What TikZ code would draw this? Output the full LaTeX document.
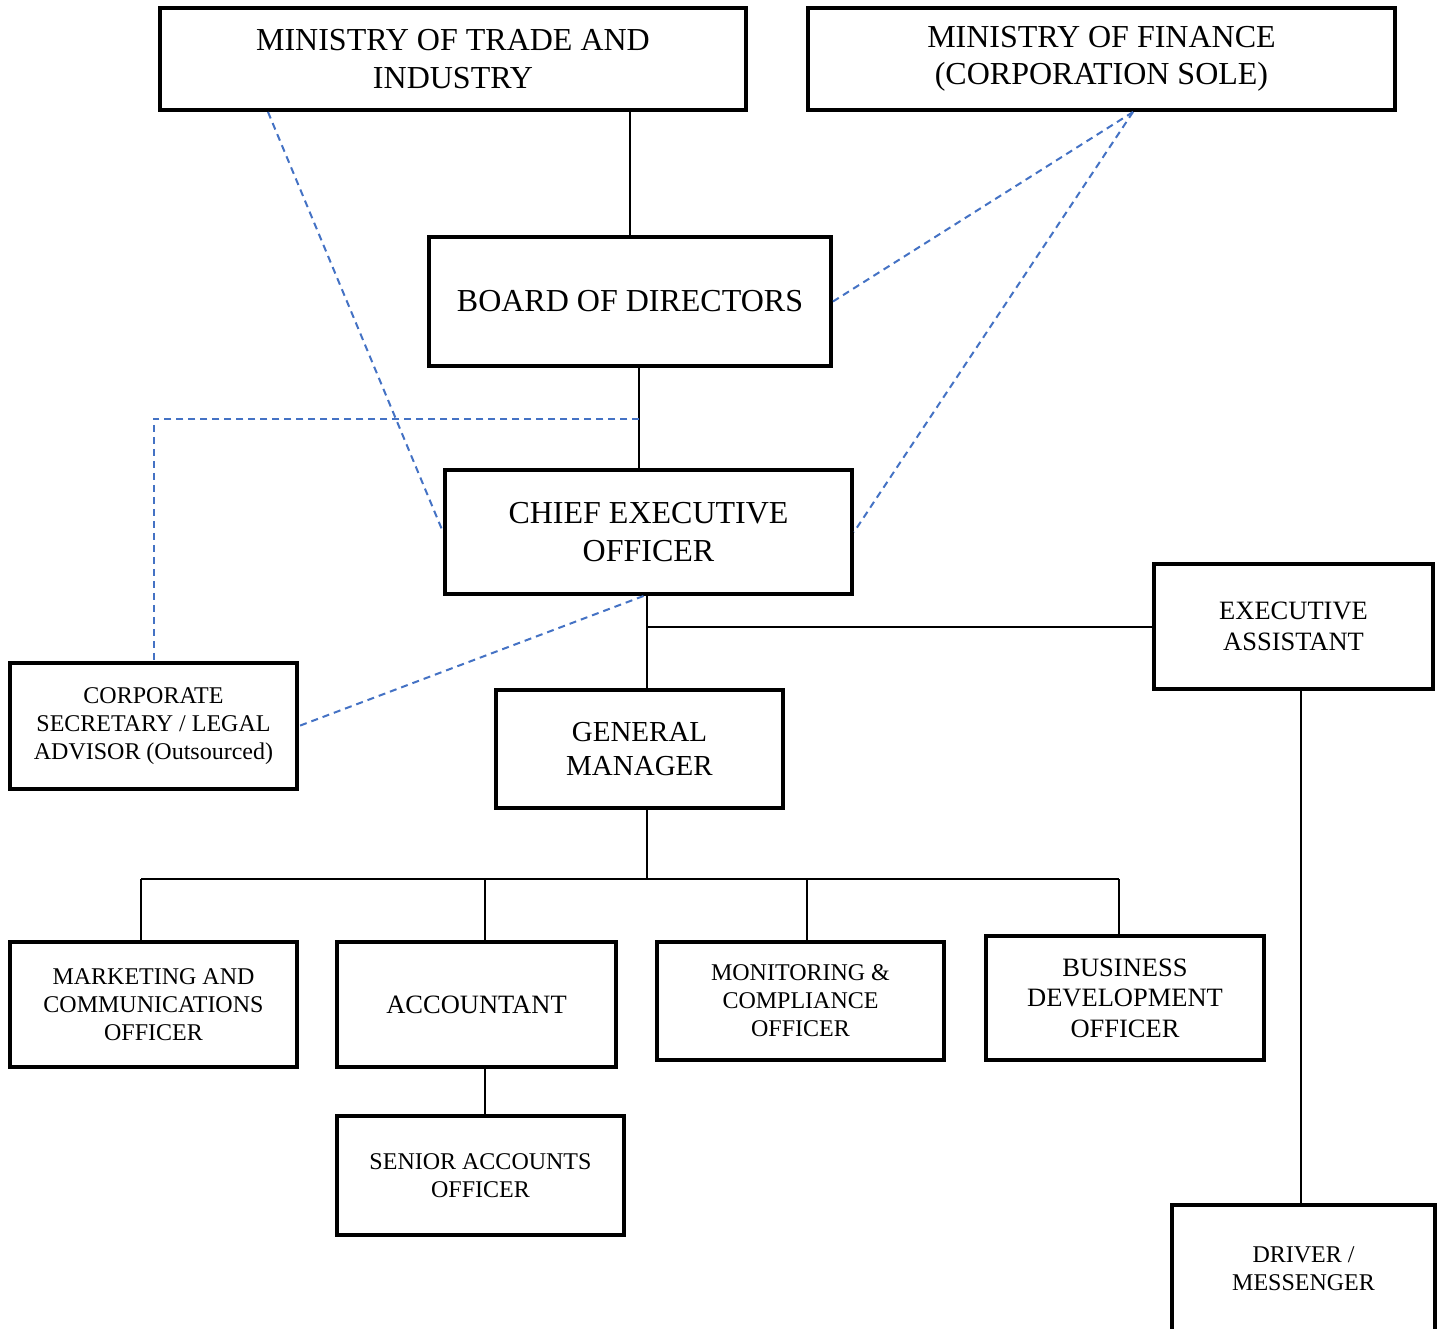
\documentclass[tikz,border=0pt]{standalone}
\usepackage{fontspec}
\setmainfont{Liberation Serif}
\usetikzlibrary{calc}
\definecolor{linkblue}{HTML}{4472C4}
\begin{document}
\begin{tikzpicture}[x=1pt, y=-1pt,
    box/.style={draw, line width=4, align=center, inner sep=0},
    hugefont/.style={font=\fontsize{32}{37.5}\selectfont},
    largefont/.style={font=\fontsize{29}{34}\selectfont},
    medfont/.style={font=\fontsize{26.5}{30.5}\selectfont},
    smallfont/.style={font=\fontsize{24}{28}\selectfont},
    conn/.style={line width=2},
    link/.style={draw=linkblue, line width=2, dash pattern=on 7pt off 5pt}]
    \useasboundingbox (0,0) rectangle (1442,1329);
    \clip (0,0) rectangle (1442,1329);

    \node[box, hugefont, minimum width=586, minimum height=102] (trade) at (453,59) {MINISTRY OF TRADE AND\\INDUSTRY};
    \node[box, hugefont, minimum width=587, minimum height=102] (finance) at (1101.5,59) {MINISTRY OF FINANCE\\(CORPORATION SOLE)};
    \node[box, hugefont, minimum width=402, minimum height=129] (board) at (630,301.5) {BOARD OF DIRECTORS};
    \node[box, hugefont, minimum width=407, minimum height=124] (ceo) at (648.5,532) {CHIEF EXECUTIVE\\OFFICER};
    \node[box, medfont, minimum width=279, minimum height=125] (ea) at (1293.5,626.5) {EXECUTIVE\\ASSISTANT};
    \node[box, smallfont, minimum width=287, minimum height=126] (corpsec) at (153.5,726) {CORPORATE\\SECRETARY / LEGAL\\ADVISOR (Outsourced)};
    \node[box, largefont, minimum width=287, minimum height=118] (gm) at (639.5,749) {GENERAL\\MANAGER};
    \node[box, smallfont, minimum width=287, minimum height=125] (marketing) at (153.5,1004.5) {MARKETING AND\\COMMUNICATIONS\\OFFICER};
    \node[box, medfont, minimum width=279, minimum height=125] (accountant) at (476.5,1004.5) {ACCOUNTANT};
    \node[box, smallfont, minimum width=287, minimum height=118] (monitoring) at (800.5,1001) {MONITORING \&\\COMPLIANCE\\OFFICER};
    \node[box, medfont, minimum width=278, minimum height=124] (busdev) at (1125,998) {BUSINESS\\DEVELOPMENT\\OFFICER};
    \node[box, smallfont, minimum width=287, minimum height=119] (senior) at (480.5,1175.5) {SENIOR ACCOUNTS\\OFFICER};
    \node[box, smallfont, minimum width=263, minimum height=128] (driver) at (1303.5,1269) {DRIVER /\\MESSENGER};

    % Solid reporting lines
    \coordinate (tap) at ($(board.south)!0.5!(ceo.north)+(0,0.5)$);
    \coordinate (stem) at ([xshift=-1.5]ceo.south);
    \coordinate (bus) at (stem |- 0,879);
    \draw[conn] (board.north) -- (board.north |- trade.south);
    \draw[conn] (tap |- board.south) -- (tap |- ceo.north);
    \draw[conn] (stem) -- (stem |- gm.north);
    \draw[conn] (stem |- ea.west) -- (ea.west);
    \draw[conn] ([xshift=-2.5]driver.north) -- ([xshift=-2.5]driver.north |- ea.south);
    \draw[conn] (stem |- gm.south) -- (bus);
    \draw[conn] ([xshift=-12.5]marketing.north |- bus) -- ([xshift=-6]busdev.north |- bus);
    \draw[conn] ([xshift=-12.5]marketing.north) -- ([xshift=-12.5]marketing.north |- bus);
    \draw[conn] ([xshift=8.5]accountant.north) -- ([xshift=8.5]accountant.north |- bus);
    \draw[conn] ([xshift=6.5]monitoring.north) -- ([xshift=6.5]monitoring.north |- bus);
    \draw[conn] ([xshift=-6]busdev.north) -- ([xshift=-6]busdev.north |- bus);
    \draw[conn] ([xshift=8.5]accountant.south) -- ([xshift=8.5]accountant.south |- senior.north);

    % Dashed advisory lines
    \draw[link] ([xshift=-185]trade.south) -- (ceo.west);
    \draw[link] ([xshift=31.5]finance.south) -- (board.east);
    \draw[link] ([xshift=31.5]finance.south) -- (ceo.east);
    \draw[link] (tap) -| (corpsec.north);
    \draw[link] ([xshift=-5]ceo.south) -- (corpsec.east);
\end{tikzpicture}
\end{document}
